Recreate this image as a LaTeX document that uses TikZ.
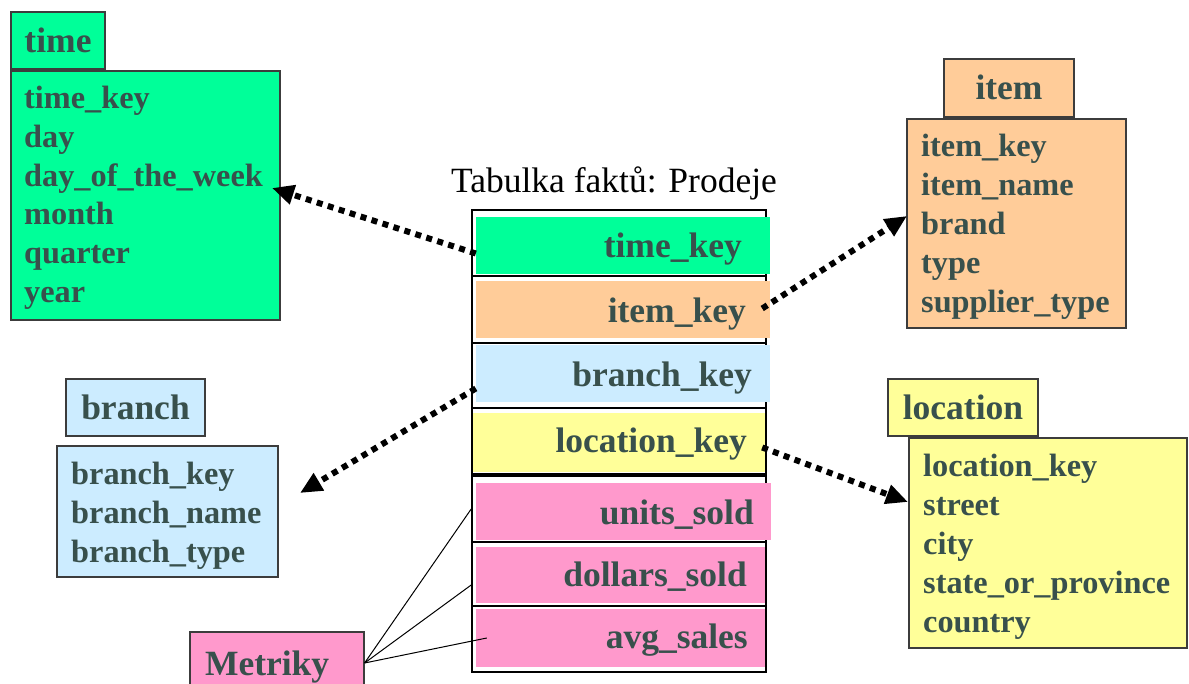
\documentclass[tikz,border=0pt]{standalone}
\usepackage{fontspec}
\setmainfont{Liberation Serif}
\usetikzlibrary{arrows.meta}
\definecolor{txt}{RGB}{56,80,76}
\definecolor{bord}{RGB}{60,60,60}
\definecolor{cgreen}{RGB}{0,255,153}
\definecolor{corange}{RGB}{255,204,153}
\definecolor{cblue}{RGB}{204,236,255}
\definecolor{cyellow}{RGB}{255,255,153}
\definecolor{cpink}{RGB}{255,153,204}
\tikzset{
  box/.style={draw=bord, line width=1.2pt, inner sep=0pt},
  hdr/.style={box, text depth=0pt, text height=24pt, text=txt,
    font=\bfseries\fontsize{35.5}{40}\selectfont},
  fld/.style={anchor=base west, inner sep=0pt, text=txt,
    font=\bfseries\fontsize{32.3}{38}\selectfont},
  rowframe/.style={draw=black, line width=1.6pt, fill=white, inner sep=0pt, minimum width=294pt},
  rowfill/.style={inner sep=0pt},
  rowtxt/.style={anchor=base east, inner sep=0pt, text=txt,
    font=\bfseries\fontsize{35.5}{40}\selectfont},
  link/.style={line width=6pt, dash pattern=on 6pt off 5.5pt,
    -{Triangle[length=22pt,width=19pt]}},
  mline/.style={black, line width=1pt}
}
\begin{document}
\begin{tikzpicture}[x=1pt,y=-1pt]
\useasboundingbox (0,0) rectangle (1189,684);

% ---------- time ----------
\node[hdr, fill=cgreen, minimum width=94pt, minimum height=57pt] (th) at (58,40.5) {time};
\node[box, fill=cgreen, minimum width=269pt, minimum height=249pt] (tb) at (145.5,195.5) {};
\node[fld] (t1) at (24,108.3) {time\_key};
\node[fld] (t2) at (24,147.2) {day};
\node[fld] (t3) at (24,186.1) {day\_of\_the\_week};
\node[fld] (t4) at (24,225) {month};
\node[fld] (t5) at (24,263.9) {quarter};
\node[fld] (t6) at (24,302.8) {year};

% ---------- item ----------
\node[hdr, fill=corange, minimum width=130pt, minimum height=58pt] (ih) at (1009,88) {item};
\node[box, fill=corange, minimum width=219pt, minimum height=209pt] (ib) at (1016.5,223.5) {};
\node[fld] (i1) at (921,157) {item\_key};
\node[fld] (i2) at (921,195.8) {item\_name};
\node[fld] (i3) at (921,234.6) {brand};
\node[fld] (i4) at (921,273.4) {type};
\node[fld] (i5) at (921,312.2) {supplier\_type};

% ---------- branch ----------
\node[hdr, fill=cblue, minimum width=139pt, minimum height=57pt] (bh) at (135.5,407.5) {branch};
\node[box, fill=cblue, minimum width=221pt, minimum height=131pt] (bb) at (167.5,511.5) {};
\node[fld] (b1) at (71,484) {branch\_key};
\node[fld] (b2) at (71,523) {branch\_name};
\node[fld] (b3) at (71,562) {branch\_type};

% ---------- location ----------
\node[hdr, fill=cyellow, minimum width=150pt, minimum height=57pt] (lh) at (963,407.5) {location};
\node[box, fill=cyellow, minimum width=278pt, minimum height=210pt] (lb) at (1048,543) {};
\node[fld] (l1) at (923,476) {location\_key};
\node[fld] (l2) at (923,515) {street};
\node[fld] (l3) at (923,554) {city};
\node[fld] (l4) at (923,593) {state\_or\_province};
\node[fld] (l5) at (923,632) {country};

% ---------- fact table ----------
\node[anchor=base, inner sep=0pt, font=\fontsize{35.5}{40}\selectfont] (title) at (614,193) {Tabulka faktů: Prodeje};

\node[rowframe, minimum height=66pt] (r1) at (619,243) {};
\node[rowframe, minimum height=67pt] (r2) at (619,309.5) {};
\node[rowframe, minimum height=65pt] (r3) at (619,375.5) {};
\node[rowframe, minimum height=66pt] (r4) at (619,441) {};
\node[rowframe, minimum height=66pt] (r5) at (619,509) {};
\node[rowframe, minimum height=64pt] (r6) at (619,574) {};
\node[rowframe, minimum height=66pt] (r7) at (619,639) {};

\node[rowfill, fill=cgreen,  minimum width=294pt, minimum height=57pt] (c1) at (623,245.5) {};
\node[rowfill, fill=corange, minimum width=294pt, minimum height=57pt] (c2) at (623,309.5) {};
\node[rowfill, fill=cblue,   minimum width=294pt, minimum height=57pt] (c3) at (623,373.5) {};
\node[rowfill, fill=cyellow, minimum width=292pt, minimum height=59pt] (c4) at (619,442.5) {};
\node[rowfill, fill=cpink,   minimum width=295pt, minimum height=57pt] (c5) at (623.5,511.5) {};
\node[rowfill, fill=cpink,   minimum width=289pt, minimum height=56pt] (c6) at (620.5,575) {};
\node[rowfill, fill=cpink,   minimum width=289pt, minimum height=58pt] (c7) at (620.5,638) {};

\node[rowtxt] (f1) at (742,258) {time\_key};
\node[rowtxt] (f2) at (746,323) {item\_key};
\node[rowtxt] (f3) at (752,387) {branch\_key};
\node[rowtxt] (f4) at (747,453) {location\_key};
\node[rowtxt] (f5) at (754,524) {units\_sold};
\node[rowtxt] (f6) at (747,586) {dollars\_sold};
\node[rowtxt] (f7) at (748,648) {avg\_sales};

% ---------- Metriky ----------
\node[box, fill=cpink, text=txt, minimum height=62pt, inner xsep=15pt, text width=144pt,
      align=left, text depth=0pt, text height=24pt,
      font=\bfseries\fontsize{35.5}{40}\selectfont] (met) at (277,663) {Metriky};

% ---------- connectors ----------
\coordinate (tipT) at (272,188);
\coordinate (tipI) at (907,216);
\coordinate (tipB) at (300,493);
\coordinate (tipL) at (908,502);

\draw[link] ([yshift=-8pt]c1.west) -- (tipT);
\draw[link] ([xshift=-8pt,yshift=1pt]c2.east) -- (tipI);
\draw[link] ([yshift=-15pt]c3.west) -- (tipB);
\draw[link] ([xshift=-3pt,yshift=-5pt]c4.east) -- (tipL);

\draw[mline] (met.east) -- (r5.west);
\draw[mline] (met.east) -- ([yshift=-11pt]r6.west);
\draw[mline] (met.east) -- ([xshift=11pt]c7.west);
\end{tikzpicture}
\end{document}
